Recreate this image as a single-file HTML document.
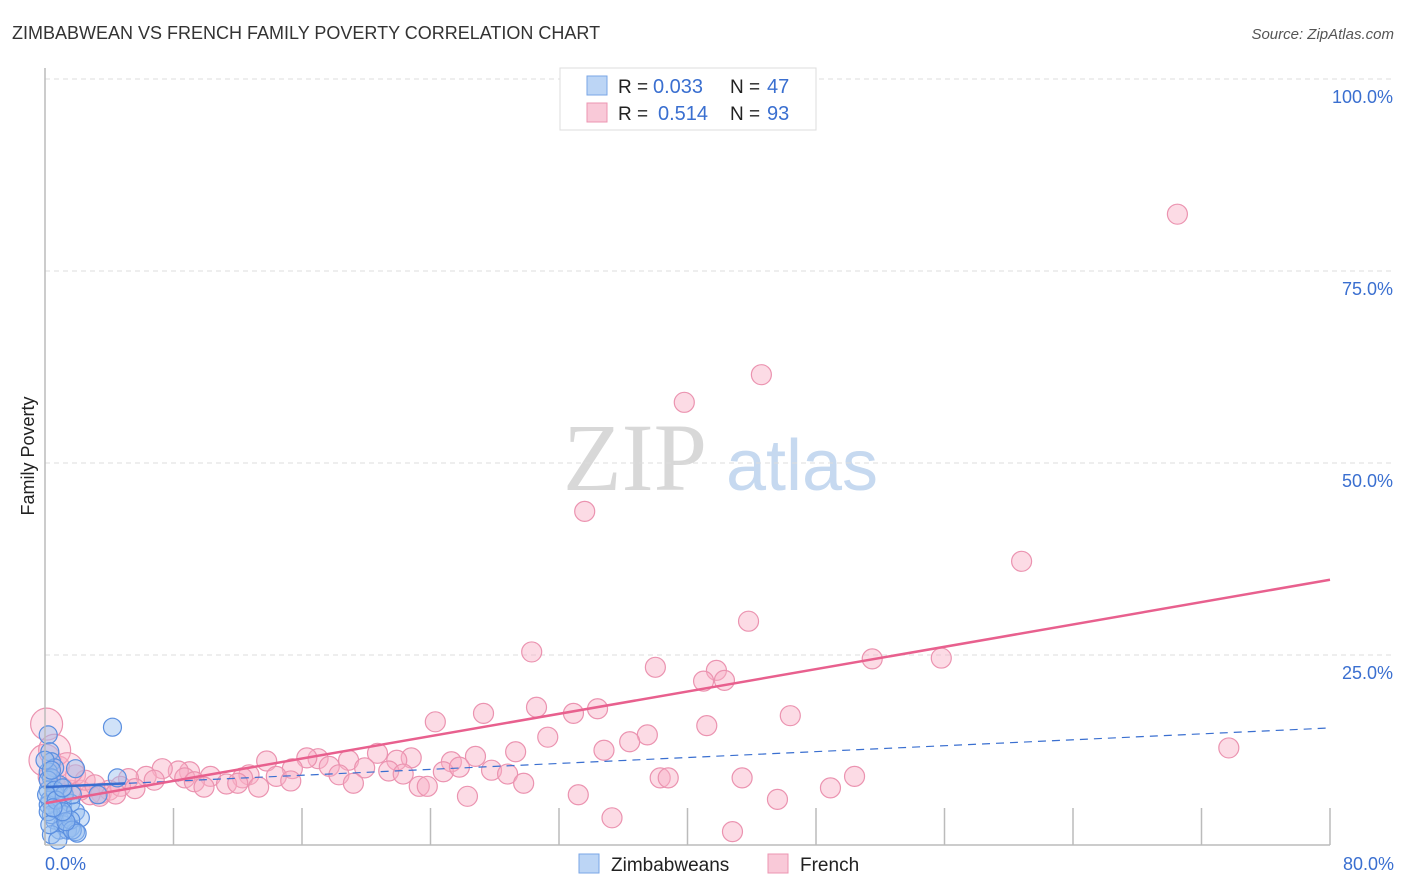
<!DOCTYPE html>
<html><head><meta charset="utf-8"><style>
body{margin:0;background:#fff;font-family:"Liberation Sans",sans-serif}
svg{display:block}
</style></head><body>
<svg id="chart" width="1406" height="892">
<text x="12" y="39" font-size="18" fill="#333">ZIMBABWEAN VS FRENCH FAMILY POVERTY CORRELATION CHART</text>
<text x="1394" y="39" font-size="15" fill="#555" font-style="italic" text-anchor="end">Source: ZipAtlas.com</text>
<text x="0" y="0" transform="translate(34,456) rotate(-90)" font-size="18" fill="#222" text-anchor="middle">Family Poverty</text>
<g><text x="635" y="490" font-size="96" font-family="Liberation Serif,serif" fill="#d8d8d8" text-anchor="middle">ZIP</text><text x="802" y="490" font-size="72" fill="#c6d9f0" text-anchor="middle">atlas</text></g>
<g id="grid"></g><g id="pts"></g><g id="lines"></g>
<line x1="45" y1="845" x2="1330" y2="845" stroke="#bbb" stroke-width="1.5"/>
<line x1="45" y1="68" x2="45" y2="845" stroke="#bbb" stroke-width="1.5"/>
<text x="45" y="870" font-size="18" fill="#3a6fd0">0.0%</text>
<text x="1394" y="870" font-size="18" fill="#3a6fd0" text-anchor="end">80.0%</text>
<g>
<rect x="560" y="68" width="256" height="62" fill="#fff" stroke="#ddd"/>
<rect x="587" y="76" width="20" height="19" fill="#bcd5f5" stroke="#7aa6e6"/>
<rect x="587" y="103" width="20" height="19" fill="#f9c9d8" stroke="#ec95b2"/>
<text x="618" y="93" font-size="19" fill="#222">R =</text>
<text x="653" y="93" font-size="20" fill="#3a6fd0">0.033</text>
<text x="730" y="93" font-size="19" fill="#222">N =</text>
<text x="767" y="93" font-size="20" fill="#3a6fd0">47</text>
<text x="618" y="120" font-size="19" fill="#222">R =</text>
<text x="658" y="120" font-size="20" fill="#3a6fd0">0.514</text>
<text x="730" y="120" font-size="19" fill="#222">N =</text>
<text x="767" y="120" font-size="20" fill="#3a6fd0">93</text>
</g>
<g>
<rect x="579" y="854" width="20" height="19" fill="#bcd5f5" stroke="#7aa6e6"/>
<text x="611" y="871" font-size="19" fill="#222">Zimbabweans</text>
<rect x="768" y="854" width="20" height="19" fill="#f9c9d8" stroke="#ec95b2"/>
<text x="800" y="871" font-size="19" fill="#222">French</text>
</g>
</svg>
<script>
const yTicks=[25,50,75,100];
const yTickLabels=["25.0%","50.0%","75.0%","100.0%"];
const xTicks=[0,8,16,24,32,40,48,56,64,72,80];
const pinkX=[70.5,44.6,39.8,33.6,60.8,43.8,30.3,38.0,41.8,41.0,42.3,51.5,55.8,30.6,34.4,32.9,27.3,24.3,41.2,46.4,73.7,31.3,37.5,36.4,34.8,29.3,26.8,25.3,22.8,20.7,21.9,18.9,17.0,16.3,13.8,15.4,17.7,21.4,19.9,18.3,24.8,22.3,25.8,27.8,28.8,14.4,12.7,12.3,10.3,9.0,8.3,7.3,6.3,5.2,6.8,8.7,9.3,11.3,9.9,12.0,15.3,13.3,19.2,23.3,23.8,29.8,38.3,38.8,43.4,50.4,48.9,45.6,33.2,26.3,35.3,42.8,3.5,2.8,2.2,1.6,1.1,0.6,0.2,0,0.9,1.9,2.5,4.0,4.7,5.6,3.4,4.4,0.1,0.6,1.4,3.1];
const pinkY=[82.4,61.5,57.9,43.7,37.2,29.4,25.4,23.4,23.0,21.6,21.7,24.5,24.6,18.2,18.0,17.4,17.4,16.3,15.8,17.1,12.9,14.3,14.6,13.7,12.6,12.4,11.8,11.1,11.6,12.2,11.3,11.3,11.5,11.6,11.2,10.2,10.5,9.9,10.3,9.4,9.8,9.5,10.4,10.0,9.5,9.2,9.4,9.0,9.2,9.8,9.9,10.2,9.2,8.9,8.7,9.0,8.5,8.2,7.8,8.3,8.6,7.8,8.3,7.9,7.9,8.3,9.0,9.0,9.0,9.2,7.7,6.2,6.8,6.6,3.8,2.0,7.0,6.8,7.4,7.4,7.7,8.3,9.1,11.3,10.5,9.4,8.7,7.4,7.9,7.6,6.6,6.9,16.0,12.6,10.2,8.1];
const pinkBig=[0,0,0,0,0,0,0,0,0,0,0,0,0,0,0,0,0,0,0,0,0,0,0,0,0,0,0,0,0,0,0,0,0,0,0,0,0,0,0,0,0,0,0,0,0,0,0,0,0,0,0,0,0,0,0,0,0,0,0,0,0,0,0,0,0,0,0,0,0,0,0,0,0,0,0,0,0,0,0,0,0,0,0,1,0,0,0,0,0,0,0,0,1,1,1,0];
const blueX=[4.2,4.5,1.9,0.2,0.3,0.4,0.6,0.2,0.4,0.9,0.2,0.6,0.3,1.1,1.6,0.8,1.2,1.9,2.2,0.6,1.1,1.6,0.2,0.4,0.9,1.4,1.9,0.4,0.8,0,0.2,0.6,0.1,1.2,1.7,3.3,0.2,0.7,1.1,0.4,1.6,1.7,2.0,0.3,1.3,1.1,0.5];
const blueY=[15.6,9.0,10.2,14.6,12.4,11.1,10.3,9.8,9.0,8.1,7.4,6.8,6.1,5.5,5.7,4.8,4.2,4.6,3.8,3.5,2.9,2.5,5.5,4.2,2.2,2.2,2.0,1.6,0.9,11.3,8.7,7.4,6.8,6.8,6.8,6.8,4.6,6.1,7.7,10.0,3.5,2.2,1.8,2.9,3.3,4.6,5.1];
const pinkTrend=[5.7,34.8];
const blueTrend=[7.8,15.5];
const NS='http://www.w3.org/2000/svg';
const X=v=>45+v/80*1285, Y=v=>847-v/100*768;
function mk(t,a,p){const e=document.createElementNS(NS,t);for(const k in a)e.setAttribute(k,a[k]);p.appendChild(e);return e;}
const grid=document.getElementById('grid');
yTicks.forEach((t,i)=>{
 const l=mk('line',{x1:45,x2:1394,y1:Y(t),y2:Y(t),stroke:'#ddd','stroke-dasharray':'5,4'},grid);
 
 
 const tx=mk('text',{x:1393,y:Y(t)+24,'font-size':18,fill:'#3a6fd0','text-anchor':'end'},grid);
 tx.textContent=yTickLabels[i];
 
 
});
xTicks.forEach(t=>{
 const l=mk('line',{x1:X(t),x2:X(t),y1:808,y2:845,stroke:'#bbb','stroke-width':1.5},grid);
 
 
});
const pts=document.getElementById('pts');
pinkX.forEach((x,i)=>{
 const c=mk('circle',{cx:X(x),cy:Y(pinkY[i]),r:pinkBig[i]?16:10,fill:pinkBig[i]?'rgba(248,175,198,0.35)':'rgba(248,175,198,0.45)',stroke:'#eb93b0','stroke-width':1.2},pts);
 
 
});
blueX.forEach((x,i)=>{
 const c=mk('circle',{cx:X(x),cy:Y(blueY[i]),r:9,fill:'rgba(150,190,240,0.45)',stroke:'#5b8fe0','stroke-width':1.2},pts);
 
 
});
const lines=document.getElementById('lines');
const bl=mk('line',{x1:X(0),y1:Y(blueTrend[0]),x2:X(80),y2:Y(blueTrend[1]),stroke:'#3a6fd0','stroke-width':1.2,'stroke-dasharray':'8,6'},lines);


const bs=mk('line',{x1:X(0),y1:Y(blueTrend[0]),x2:X(5),y2:Y(blueTrend[0]+(blueTrend[1]-blueTrend[0])*5/80),stroke:'#3a6fd0','stroke-width':2.5},lines);


const pl=mk('line',{x1:X(0),y1:Y(pinkTrend[0]),x2:X(80),y2:Y(pinkTrend[1]),stroke:'#e8608e','stroke-width':2.5},lines);


</script>
</body></html>
